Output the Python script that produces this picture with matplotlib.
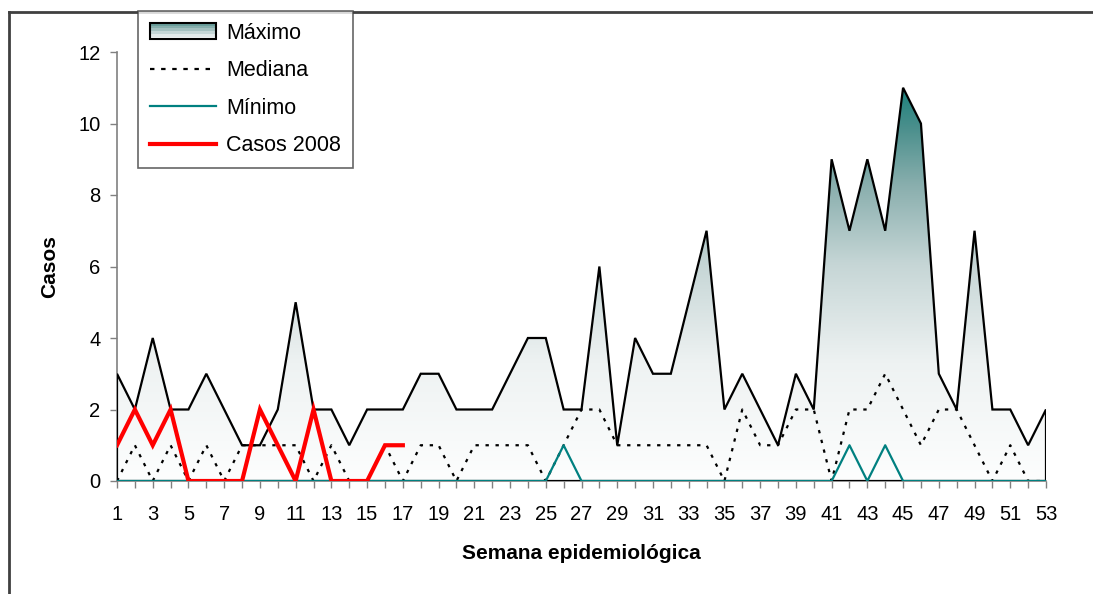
import numpy as np
import matplotlib
matplotlib.use("Agg")
import matplotlib.pyplot as plt
from matplotlib.patches import Polygon, Rectangle
from matplotlib.lines import Line2D
from matplotlib.colors import LinearSegmentedColormap
from matplotlib.legend_handler import HandlerBase

plt.rcParams['font.family'] = ['Liberation Sans', 'DejaVu Sans']

weeks = list(range(1, 54))
maximo = [3, 2, 4, 2, 2, 3, 2, 1, 1, 2, 5, 2, 2, 1, 2, 2, 2, 3, 3, 2,
          2, 2, 3, 4, 4, 2, 2, 6, 1, 4, 3, 3, 5, 7, 2, 3, 2, 1, 3, 2,
          9, 7, 9, 7, 11, 10, 3, 2, 7, 2, 2, 1, 2]
mediana = [0, 1, 0, 1, 0, 1, 0, 1, 1, 1, 1, 0, 1, 0, 0, 1, 0, 1, 1, 0,
           1, 1, 1, 1, 0, 1, 2, 2, 1, 1, 1, 1, 1, 1, 0, 2, 1, 1, 2, 2,
           0, 2, 2, 3, 2, 1, 2, 2, 1, 0, 1, 0, 0]
minimo = [0] * 25 + [1] + [0] * 15 + [1, 0, 1] + [0] * 9
casos_weeks = list(range(1, 18))
casos_2008 = [1, 2, 1, 2, 0, 0, 0, 0, 2, 1, 0, 2, 0, 0, 0, 1, 1]

W, H = 1093, 594
fig = plt.figure(figsize=(W / 100, H / 100), dpi=100)
ax = fig.add_axes([117 / W, 1 - 481 / H, (1046 - 117) / W, (481 - 52) / H])

# gradient fill
cmap = LinearSegmentedColormap.from_list(
    "grad", [(0.0, "#fdfefe"), (0.3, "#eef2f2"), (0.55, "#c6d6d6"),
             (0.75, "#8aafae"), (0.9, "#4a8f8c"), (1.0, "#1b827d")])
ymax = max(maximo)
verts = [(weeks[0], 0)] + list(zip(weeks, maximo)) + [(weeks[-1], 0)]
poly = Polygon(verts, closed=True, facecolor="none", edgecolor="black",
               linewidth=1.6, zorder=3, joinstyle="miter")
ax.add_patch(poly)
grad = np.linspace(0, 1, 256).reshape(-1, 1)
im = ax.imshow(grad, cmap=cmap, origin="lower", aspect="auto",
               extent=[weeks[0], weeks[-1], 0, ymax], zorder=2,
               interpolation="bilinear")
im.set_clip_path(poly)

ax.plot(weeks, mediana, color="black", linewidth=1.6,
        linestyle=(0, (1.5, 3)), zorder=4)
ax.plot(weeks, minimo, color="#008080", linewidth=1.6, zorder=5)
ax.plot(casos_weeks, casos_2008, color="#ff0000", linewidth=3.0, zorder=6,
        solid_joinstyle="miter")

ax.set_xlim(1, 53)
ax.set_ylim(0, 12)
ax.set_yticks(range(0, 13, 2))
ax.set_xticks(weeks)
ax.set_xticklabels([str(w) if w % 2 == 1 else "" for w in weeks])
for s in ["top", "right"]:
    ax.spines[s].set_visible(False)
for s in ["left", "bottom"]:
    ax.spines[s].set_color("#808080")
    ax.spines[s].set_linewidth(1.2)
ax.tick_params(axis="both", direction="out", length=5, width=1.0,
               color="#808080", labelsize=14.5)
ax.tick_params(axis="y", pad=7)
ax.tick_params(axis="x", pad=12)
ax.set_xlabel("Semana epidemiológica", fontsize=15, fontweight="bold",
              labelpad=15)
ax.set_ylabel("Casos", fontsize=15, fontweight="bold", labelpad=14)
ax.patch.set_alpha(0)

# outer frame lines
fig.add_artist(Line2D([9 / W, 1], [1 - 12 / H, 1 - 12 / H],
                      transform=fig.transFigure, color="#404040", linewidth=2))
fig.add_artist(Line2D([9 / W, 9 / W], [0, 1 - 12 / H],
                      transform=fig.transFigure, color="#404040", linewidth=2))


class GradHandler(HandlerBase):
    def create_artists(self, legend, orig_handle, xdescent, ydescent,
                       width, height, fontsize, trans):
        arts = []
        cols = ["#f4f7f7", "#e2eaea", "#c4d6d6", "#a3c0bf",
                "#86aeac", "#6a9e9b"]
        n = len(cols)
        y0 = -ydescent - height * 0.05
        hh = height * 1.1
        for i in range(n):
            r = Rectangle((-xdescent, y0 + hh * i / n), width, hh / n,
                          facecolor=cols[i], edgecolor="none", transform=trans)
            arts.append(r)
        border = Rectangle((-xdescent, y0), width, hh, facecolor="none",
                           edgecolor="black", linewidth=1.5, transform=trans)
        arts.append(border)
        return arts


h_max = Rectangle((0, 0), 1, 1)
h_med = Line2D([], [], color="black", linewidth=1.6, linestyle=(0, (2, 3)))
h_min = Line2D([], [], color="#008080", linewidth=1.6)
h_cas = Line2D([], [], color="#ff0000", linewidth=3.0)
leg = fig.legend([h_max, h_med, h_min, h_cas],
                 ["Máximo", "Mediana", "Mínimo", "Casos 2008"],
                 loc="upper left", bbox_to_anchor=(138 / W, 1 - 11 / H),
                 bbox_transform=fig.transFigure, borderaxespad=0,
                 fontsize=15.5, frameon=True, fancybox=False,
                 handlelength=3.1, handletextpad=0.45, labelspacing=0.77,
                 borderpad=0.54, handler_map={Rectangle: GradHandler()})
leg.get_frame().set_edgecolor("#404040")
leg.get_frame().set_linewidth(1.2)
leg.set_zorder(10)

fig.savefig("out.png", dpi=100)
